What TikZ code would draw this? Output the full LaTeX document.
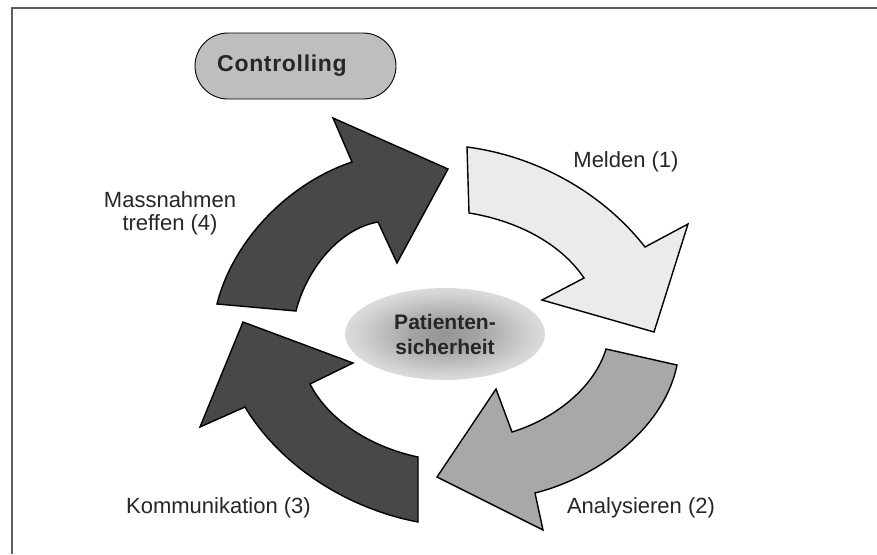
\documentclass[tikz,border=0pt]{standalone}
\usepackage{fontspec}
\setmainfont{Liberation Sans}
\newfontfamily\ctrlfont[LetterSpace=3]{Liberation Sans}
\usepackage{tikz}
\usetikzlibrary{shapes.geometric,shapes.misc}

\definecolor{framegray}{HTML}{5E5E5E}
\definecolor{pillgray}{HTML}{BEBEBE}
\definecolor{lightarrow}{HTML}{EBEBEB}
\definecolor{midarrow}{HTML}{A8A8A8}
\definecolor{darkarrow}{HTML}{484848}
\definecolor{txtgray}{HTML}{262626}
\pgfdeclareradialshading{centerglow}{\pgfpoint{0bp}{0bp}}{color(0bp)=(black!42); color(8bp)=(black!36); color(22bp)=(black!17); color(32bp)=(black!7); color(38bp)=(white); color(50bp)=(white)}

\begin{document}
\begin{tikzpicture}[x=1pt,y=-1pt]
\tikzstyle{every node}+=[inner sep=0pt, text=txtgray]
\tikzstyle{phase}=[font=\fontsize{22}{23}\selectfont]
\tikzstyle{cyclearrow}=[draw=black, line width=1.4pt, line join=miter]
\useasboundingbox (0,0) rectangle (877,554);

\draw [framegray, line width=2.5pt] (12,554) -- (12,8) -- (877,8);

\node [rounded rectangle, draw=black, line width=0.9pt, fill=pillgray, minimum width=201pt, minimum height=66pt, font=\ctrlfont\bfseries\fontsize{23}{25}\selectfont] (ctrl) at (295.5,66) {Controlling\hspace*{27pt}};

\node [ellipse, shading=centerglow, minimum width=200pt, minimum height=92pt, align=center, font=\bfseries\fontsize{21}{25}\selectfont] (patient) at (445,334) {Patienten-\\sicherheit};

\draw [cyclearrow, fill=lightarrow] (467,147) .. controls (536,156) and (602,192) .. (645,247) -- (688,224) -- (654,332) -- (542,300) -- (584,278) .. controls (559,241) and (513,220) .. (469,213) -- cycle;
\draw [cyclearrow, fill=midarrow] (677,365) .. controls (664,429) and (598,477) .. (535,493) -- (543,530) -- (437,477) -- (496,389) -- (512,432) .. controls (552,420) and (594,389) .. (606,349) -- cycle;
\draw [cyclearrow, fill=darkarrow] (418,522) .. controls (349,509) and (281,467) .. (245,407) -- (200,427) -- (243,322) -- (353,363) -- (310,384) .. controls (330,423) and (375,448) .. (418,457) -- cycle;
\draw [cyclearrow, fill=darkarrow] (217,304) .. controls (233,240) and (289,183) .. (352,162) -- (333,118) -- (448,169) -- (397,263) -- (378,222) .. controls (338,229) and (306,271) .. (296,311) -- cycle;

\node [phase, anchor=base] (melden) at (626,167) {Melden (1)};
\node [phase, anchor=base] (analyse) at (641,513) {Analysieren (2)};
\node [phase, anchor=base] (kommu) at (218.5,513) {Kommunikation (3)};
\node [phase, align=center] (massn) at (170,213) {Massnahmen\\treffen (4)};
\end{tikzpicture}
\end{document}
